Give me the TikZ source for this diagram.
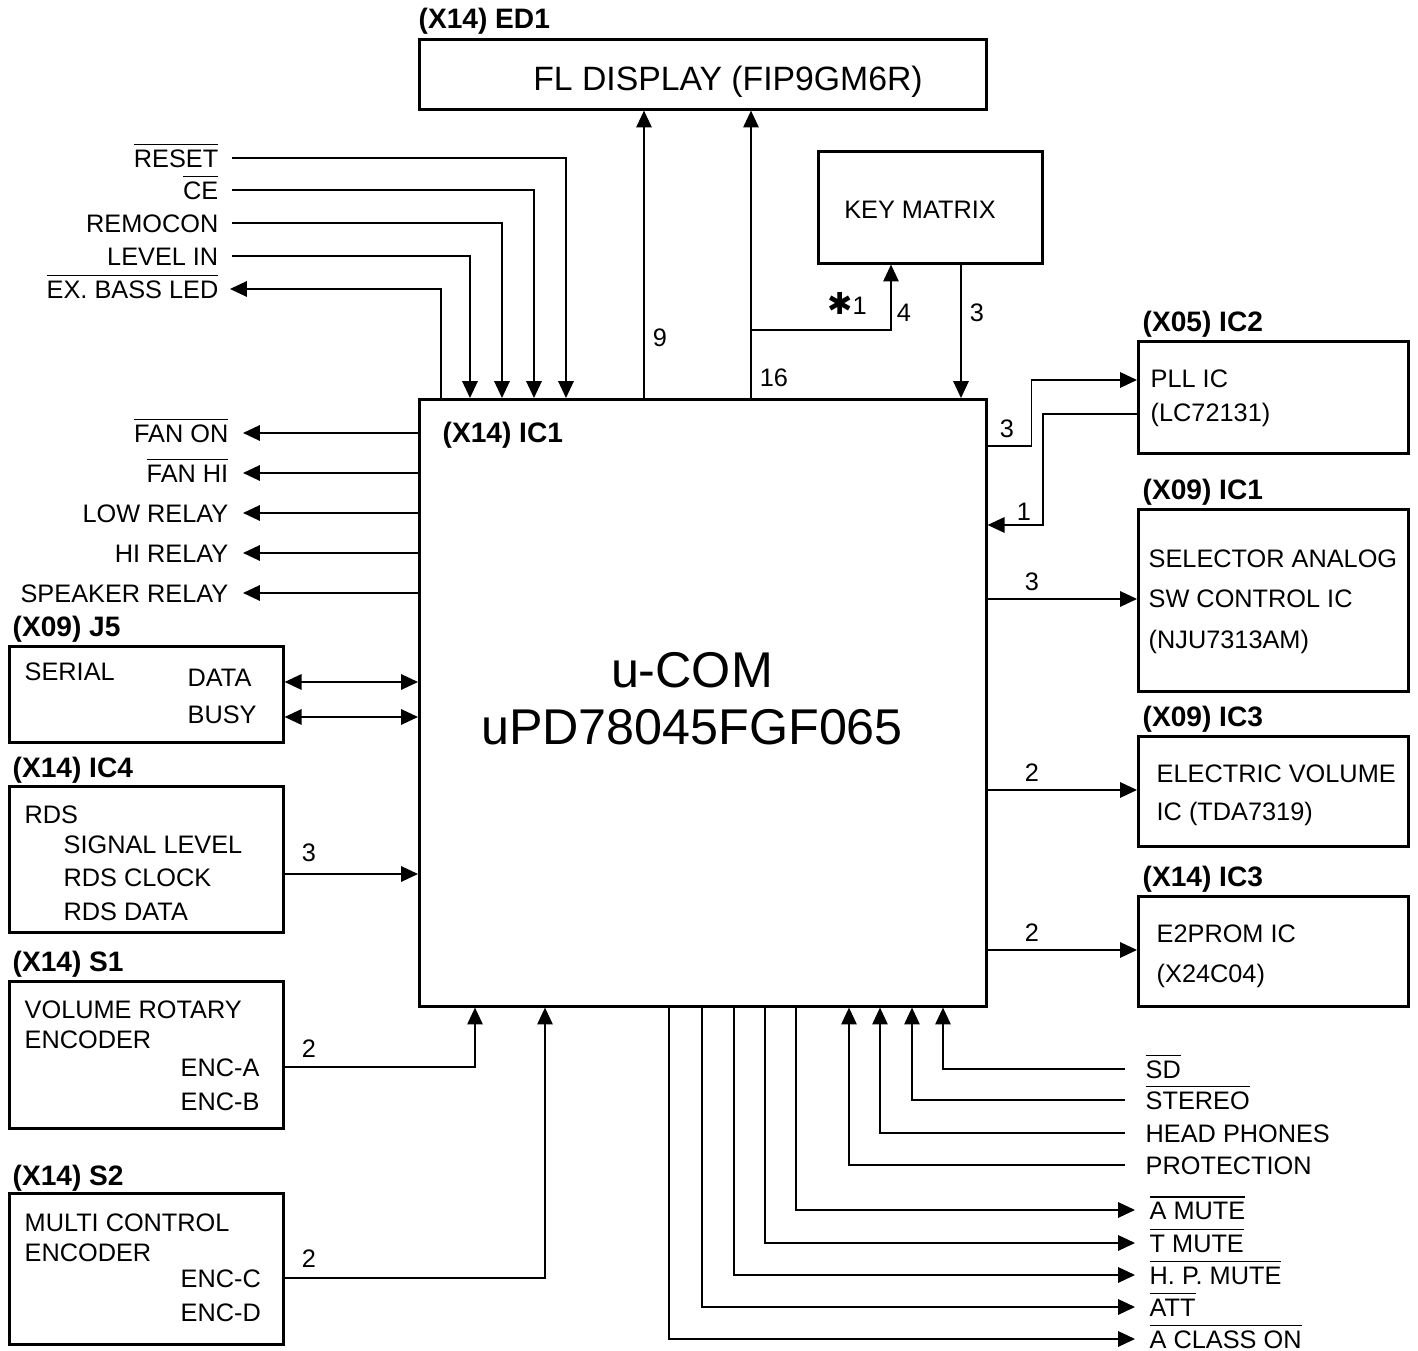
\documentclass[tikz,border=0pt]{standalone}
\usepackage{fontspec}
\setmainfont{Liberation Sans}
\newfontfamily\symfont{DejaVu Sans}
\usetikzlibrary{positioning, calc, arrows.meta}

\newcommand\sigfont{\fontsize{7.2}{8.6}\selectfont}
\newcommand\tagfont{\fontsize{8}{9.6}\selectfont\bfseries}
\newcommand\negsig[1]{$\overline{\mbox{#1}}$}

\tikzset{
  box/.style={draw, line width=0.75pt, inner sep=0pt, anchor=north west},
  txt/.style={font=\sigfont, inner sep=0pt, text height=5.2pt, text depth=0pt},
  tag/.style={font=\tagfont, inner sep=0pt, text height=5.7pt, text depth=0pt},
  wire/.style={line width=0.45pt},
  arr/.style={wire, -{Triangle[length=4.8pt,width=4.4pt]}},
  darr/.style={wire, {Triangle[length=4.8pt,width=4.4pt]}-{Triangle[length=4.8pt,width=4.4pt]}}
}

\begin{document}
\begin{tikzpicture}[x=0.1mm, y=-0.1mm]

    \useasboundingbox (0,0) rectangle (1418,1351);

    \node[box, minimum width=56.7mm, minimum height=7mm] (ed1) at (418,38) {};
    \node[box, minimum width=56.7mm, minimum height=60.7mm] (ic1) at (418,398) {};
    \node[box, minimum width=22.4mm, minimum height=11.2mm] (keym) at (817,150) {};
    \node[box, minimum width=27mm, minimum height=11.2mm] (pll) at (1137,340) {};
    \node[box, minimum width=27mm, minimum height=18.2mm] (sel) at (1137,508) {};
    \node[box, minimum width=27mm, minimum height=11mm] (evol) at (1137,735) {};
    \node[box, minimum width=27mm, minimum height=11mm] (eprom) at (1137,895) {};
    \node[box, minimum width=27.4mm, minimum height=9.6mm] (j5) at (8,645) {};
    \node[box, minimum width=27.4mm, minimum height=14.6mm] (rds) at (8,785) {};
    \node[box, minimum width=27.4mm, minimum height=14.7mm] (s1) at (8,980) {};
    \node[box, minimum width=27.4mm, minimum height=15.1mm] (s2) at (8,1192) {};

    \node[tag, above right=0.9mm and 0mm of ed1.north west] (ed1tag) {(X14) ED1};
    \node[tag, above right=0.8mm and 0.5mm of pll.north west] (plltag) {(X05) IC2};
    \node[tag, above right=0.8mm and 0.5mm of sel.north west] (seltag) {(X09) IC1};
    \node[tag, above right=0.8mm and 0.5mm of evol.north west] (evoltag) {(X09) IC3};
    \node[tag, above right=0.8mm and 0.5mm of eprom.north west] (epromtag) {(X14) IC3};
    \node[tag, above right=0.8mm and 0.4mm of j5.north west] (j5tag) {(X09) J5};
    \node[tag, above right=0.7mm and 0.4mm of rds.north west] (rdstag) {(X14) IC4};
    \node[tag, above right=0.8mm and 0.4mm of s1.north west] (s1tag) {(X14) S1};
    \node[tag, above right=0.6mm and 0.4mm of s2.north west] (s2tag) {(X14) S2};
    \node[tag, anchor=west] (ic1tag) at (442,432) {(X14) IC1};

    \node[inner sep=0pt, font=\fontsize{9.6}{11}\selectfont, text height=6.9pt, text depth=0pt] (ed1txt) at (728,78) {FL DISPLAY (FIP9GM6R)};
    \node[txt] (keymtxt) at (920,209) {KEY MATRIX};
    \node[inner sep=0pt, font=\fontsize{14.3}{17}\selectfont, text height=10.2pt, text depth=0pt] (ucom) at (692,670) {u-COM};
    \node[inner sep=0pt, font=\fontsize{14.3}{17}\selectfont, text height=10.2pt, text depth=0pt] (upd) at (692,727) {uPD78045FGF065};

    \node[txt, anchor=west] (plltxt) at (1150,378) {PLL IC};
    \node[txt, anchor=west] (plltype) at (1150,412) {(LC72131)};
    \node[txt, anchor=west] (seltxt) at (1148,558) {SELECTOR ANALOG};
    \node[txt, anchor=west] (seltxtb) at (1148,598) {SW CONTROL IC};
    \node[txt, anchor=west] (seltype) at (1148,639) {(NJU7313AM)};
    \node[txt, anchor=west] (evoltxt) at (1156,773) {ELECTRIC VOLUME};
    \node[txt, anchor=west] (evoltype) at (1156,811) {IC (TDA7319)};
    \node[txt, anchor=west] (epromtxt) at (1156,933) {E2PROM IC};
    \node[txt, anchor=west] (epromtype) at (1156,973) {(X24C04)};

    \node[txt, anchor=west] (serial) at (24,671) {SERIAL};
    \node[txt, anchor=west] (data) at (187,677) {DATA};
    \node[txt, anchor=west] (busy) at (187,714) {BUSY};
    \node[txt, anchor=west] (rdstxt) at (24,814) {RDS};
    \node[txt, anchor=west] (siglev) at (63,844) {SIGNAL LEVEL};
    \node[txt, anchor=west] (rdsclk) at (63,877) {RDS CLOCK};
    \node[txt, anchor=west] (rdsdat) at (63,911) {RDS DATA};
    \node[txt, anchor=west] (s1txt) at (24,1009) {VOLUME ROTARY};
    \node[txt, anchor=west] (s1txtb) at (24,1039) {ENCODER};
    \node[txt, anchor=west] (enca) at (180,1067) {ENC-A};
    \node[txt, anchor=west] (encb) at (180,1101) {ENC-B};
    \node[txt, anchor=west] (s2txt) at (24,1222) {MULTI CONTROL};
    \node[txt, anchor=west] (s2txtb) at (24,1252) {ENCODER};
    \node[txt, anchor=west] (encc) at (180,1278) {ENC-C};
    \node[txt, anchor=west] (encd) at (180,1312) {ENC-D};

    \node[txt, anchor=east] (reset) at (219,158) {\negsig{RESET}};
    \node[txt, anchor=east] (ce) at (219,190) {\negsig{CE}};
    \node[txt, anchor=east] (remocon) at (219,223) {REMOCON};
    \node[txt, anchor=east] (levelin) at (219,256) {LEVEL IN};
    \node[txt, anchor=east] (exbass) at (219,289) {\negsig{EX. BASS LED}};

    \node[txt, anchor=east] (fanon) at (229,433) {\negsig{FAN ON}};
    \node[txt, anchor=east] (fanhi) at (229,473) {\negsig{FAN HI}};
    \node[txt, anchor=east] (lowrly) at (229,513) {LOW RELAY};
    \node[txt, anchor=east] (hirly) at (229,553) {HI RELAY};
    \node[txt, anchor=east] (sprly) at (229,593) {SPEAKER RELAY};

    \node[txt, anchor=west] (sd) at (1145,1069) {\negsig{SD}};
    \node[txt, anchor=west] (stereo) at (1145,1100) {\negsig{STEREO}};
    \node[txt, anchor=west] (hphone) at (1145,1133) {HEAD PHONES};
    \node[txt, anchor=west] (protect) at (1145,1165) {PROTECTION};
    \node[txt, anchor=west] (amute) at (1149,1210) {\negsig{A MUTE}};
    \node[txt, anchor=west] (tmute) at (1149,1243) {\negsig{T MUTE}};
    \node[txt, anchor=west] (hpmute) at (1149,1275) {\negsig{H. P. MUTE}};
    \node[txt, anchor=west] (att) at (1149,1307) {\negsig{ATT}};
    \node[txt, anchor=west] (aclass) at (1149,1339) {\negsig{A CLASS ON}};

    \node[txt] (n9) at (660,337) {9};
    \node[txt] (n16) at (774,377) {16};
    \node[txt] (nstar) at (847,305) {{\symfont\fontsize{8.6}{9}\selectfont ✱}1};
    \node[txt] (n4) at (904,312) {4};
    \node[txt] (n3key) at (977,312) {3};
    \node[txt] (n3pll) at (1007,428) {3};
    \node[txt] (n1pll) at (1024,511) {1};
    \node[txt] (n3sel) at (1032,581) {3};
    \node[txt] (n2evol) at (1032,772) {2};
    \node[txt] (n2eprom) at (1032,932) {2};
    \node[txt] (n3rds) at (309,852) {3};
    \node[txt] (n2s1) at (309,1048) {2};
    \node[txt] (n2s2) at (309,1258) {2};

    \draw[arr] ([xshift=1.3mm]reset.east) -| ($(ic1.north west)+(148,0)$);
    \draw[arr] ([xshift=1.3mm]ce.east) -| ($(ic1.north west)+(116,0)$);
    \draw[arr] ([xshift=1.3mm]remocon.east) -| ($(ic1.north west)+(84,0)$);
    \draw[arr] ([xshift=1.3mm]levelin.east) -| ($(ic1.north west)+(52,0)$);
    \draw[arr] ($(ic1.north west)+(23,0)$) |- ([xshift=1.1mm]exbass.east);

    \draw[arr] ($(ic1.north west)+(226,0)$) -- ($(ed1.south west)+(226,0)$);
    \draw[arr] ($(ic1.north west)+(333,0)$) -- ($(ed1.south west)+(333,0)$);
    \draw[arr] ($(ic1.north west)+(333,-68)$) -| ($(keym.south west)+(74,0)$);
    \draw[arr] ($(keym.south west)+(144,0)$) -- ($(ic1.north west)+(543,0)$);

    \draw[arr] (fanon.east -| ic1.west) -- ([xshift=1.4mm]fanon.east);
    \draw[arr] (fanhi.east -| ic1.west) -- ([xshift=1.4mm]fanhi.east);
    \draw[arr] (lowrly.east -| ic1.west) -- ([xshift=1.4mm]lowrly.east);
    \draw[arr] (hirly.east -| ic1.west) -- ([xshift=1.4mm]hirly.east);
    \draw[arr] (sprly.east -| ic1.west) -- ([xshift=1.4mm]sprly.east);

    \draw[darr] ($(j5.north east)+(0,37)$) -- ($(ic1.west |- j5.north)+(0,37)$);
    \draw[darr] ($(j5.north east)+(0,72)$) -- ($(ic1.west |- j5.north)+(0,72)$);
    \draw[arr] ($(rds.north east)+(0,89)$) -- ($(ic1.west |- rds.north)+(0,89)$);
    \draw[arr] ($(s1.north east)+(0,87)$) -| ($(ic1.south west)+(57,0)$);
    \draw[arr] ($(s2.north east)+(0,86)$) -| ($(ic1.south west)+(127,0)$);

    \draw[arr] ($(ic1.north east)+(0,48)$) -- ++(44,0) |- ($(pll.north west)+(0,40)$);
    \draw[arr] ($(pll.north west)+(0,74)$) -- ++(-94,0) |- ($(ic1.north east)+(0,127)$);
    \draw[arr] ($(ic1.north east)+(0,201)$) -- ($(sel.north west)+(0,91)$);
    \draw[arr] ($(ic1.north east)+(0,392)$) -- ($(evol.north west)+(0,55)$);
    \draw[arr] ($(ic1.north east)+(0,552)$) -- ($(eprom.north west)+(0,55)$);

    \draw[arr] ([xshift=-2mm]sd.west) -| ($(ic1.south west)+(525,0)$);
    \draw[arr] ([xshift=-2mm]stereo.west) -| ($(ic1.south west)+(494,0)$);
    \draw[arr] ([xshift=-2mm]hphone.west) -| ($(ic1.south west)+(462,0)$);
    \draw[arr] ([xshift=-2mm]protect.west) -| ($(ic1.south west)+(431,0)$);
    \draw[arr] ($(ic1.south west)+(378,0)$) |- ([xshift=-1.4mm]amute.west);
    \draw[arr] ($(ic1.south west)+(347,0)$) |- ([xshift=-1.4mm]tmute.west);
    \draw[arr] ($(ic1.south west)+(316,0)$) |- ([xshift=-1.4mm]hpmute.west);
    \draw[arr] ($(ic1.south west)+(284,0)$) |- ([xshift=-1.4mm]att.west);
    \draw[arr] ($(ic1.south west)+(251,0)$) |- ([xshift=-1.4mm]aclass.west);

\end{tikzpicture}
\end{document}
